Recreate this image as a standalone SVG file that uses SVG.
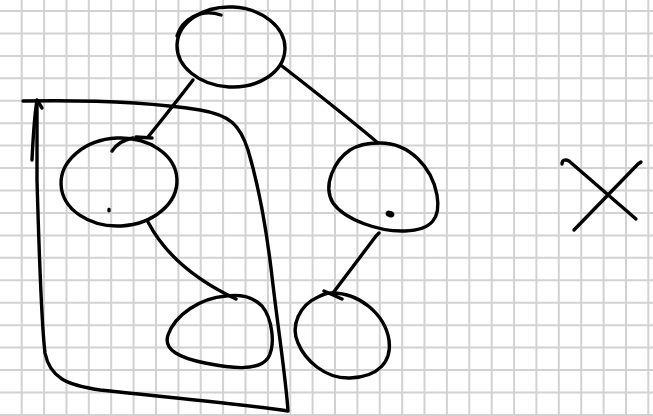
<svg xmlns="http://www.w3.org/2000/svg" width="653" height="416" viewBox="0 0 653 416">
<style>
.grid{stroke:#d2d2d2;stroke-width:2;fill:none}
.ink{stroke:#000;stroke-width:3.4;fill:none;stroke-linecap:round;stroke-linejoin:round}
.dot{fill:#000}
</style>
<rect width="653" height="416" fill="#fff"/>
<path class="grid" d="M21.7,0V416M44.1,0V416M66.5,0V416M88.8,0V416M111.2,0V416M133.6,0V416M156,0V416M178.4,0V416M200.7,0V416M223.1,0V416M245.5,0V416M267.9,0V416M290.3,0V416M312.6,0V416M335,0V416M357.4,0V416M379.8,0V416M402.2,0V416M424.5,0V416M446.9,0V416M469.3,0V416M491.7,0V416M514.1,0V416M536.4,0V416M558.8,0V416M581.2,0V416M603.6,0V416M626,0V416M648.3,0V416M0,11H653M0,33.4H653M0,55.9H653M0,78.3H653M0,100.8H653M0,123.2H653M0,145.6H653M0,168.1H653M0,190.5H653M0,213H653M0,235.4H653M0,257.8H653M0,280.3H653M0,302.7H653M0,325.2H653M0,347.6H653M0,370H653M0,392.5H653M0,414.9H653"/>
<g id="loop">
<path class="ink" d="M23,101 C80,100 150,102 200,110 C230,115 240,125 248,150 C260,190 268,240 273,285 C279,335 286,380 288,411 C250,405 167,397 100,390 C67,385 50,378 45,353 C41,320 39,250 37,180 C37,150 37,120 37,101"/>
<path class="ink" d="M32,160 C33,140 34,118 37,100 L42,108"/>
</g>
<g id="connectors">
<path class="ink" d="M193,80 C180,97 165,116 148,137 M136,137 L152,138"/>
<path class="ink" d="M282,66 C310,88 345,115 378,143"/>
<path class="ink" d="M148,222 C160,245 185,275 236,299 L232,297"/>
<path class="ink" d="M379,233 L376,236 L333,293 M324,291 L342,299"/>
</g>
<g id="node-top">
<ellipse class="ink" cx="231" cy="47" rx="54" ry="40" transform="rotate(3 231 47)"/>
<path class="ink" d="M177,36 C182,20 200,8 221,15"/>
</g>
<g id="node-left">
<ellipse class="ink" cx="119" cy="182" rx="58" ry="44" transform="rotate(-3 119 182)"/>
<path class="ink" d="M112,151 C116,145 122,140 133,138"/>
<ellipse class="dot" cx="109" cy="210" rx="1.8" ry="2.6"/>
</g>
<g id="node-right">
<path class="ink" d="M378,143 C410,142 432,168 437,195 C441,218 432,230 405,231 C380,232 345,220 333,203 C322,185 335,160 350,150 C358,145 368,143 378,143 Z"/>
<ellipse class="dot" cx="390" cy="214" rx="4.5" ry="3.2" transform="rotate(20 390 214)"/>
</g>
<g id="node-bottom-left">
<path class="ink" d="M226,296 C200,298 175,315 168,335 C163,350 180,358 205,363 C230,368 258,372 268,358 C276,345 272,318 262,306 C252,296 240,294 226,296 Z"/>
</g>
<g id="node-bottom-right">
<path class="ink" d="M330,293 C360,292 385,315 389,340 C392,362 378,377 350,378 C325,379 305,360 298,343 C290,325 300,305 318,297 C322,295 326,293 330,293 Z"/>
</g>
<g id="x-mark">
<path class="ink" d="M562,164 C562,160 565,159 569,161 L636,219 M641,162 L638,164 L574,230"/>
</g>
</svg>
